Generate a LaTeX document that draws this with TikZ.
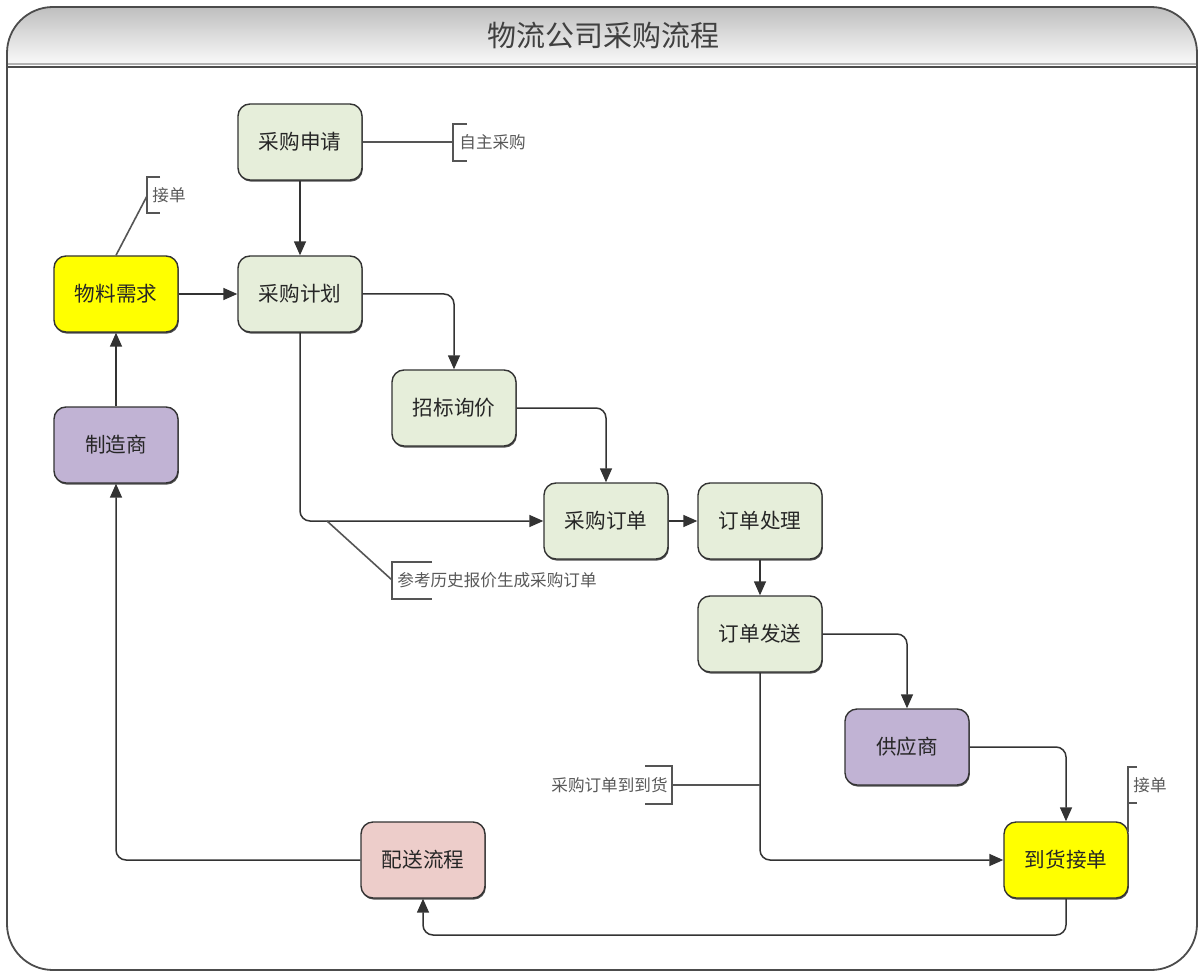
\documentclass[tikz,border=0pt]{standalone}
\usepackage{fontspec}
\newfontfamily\cjk{Noto Sans CJK SC}
\usetikzlibrary{arrows.meta,shadows}
\definecolor{gfill}{HTML}{E6EEDA}
\definecolor{yfill}{HTML}{FFFF00}
\definecolor{pfill}{HTML}{C1B3D4}
\definecolor{rfill}{HTML}{EDCDCA}
\definecolor{edgec}{HTML}{333333}
\definecolor{annoc}{HTML}{555555}
\begin{document}
\begin{tikzpicture}[x=0.5pt,y=-0.5pt,
  box/.style={draw=edgec, line width=0.7pt, rounded corners=6pt,
    minimum width=62pt, minimum height=38pt, inner sep=0pt,
    font=\cjk\fontsize{10.3}{12}\selectfont, text=black!85,
    drop shadow={shadow xshift=0.4pt,shadow yshift=-0.8pt,fill=black!75,opacity=0.9}},
  gbox/.style={box, fill=gfill},
  ybox/.style={box, fill=yfill},
  pbox/.style={box, fill=pfill},
  rbox/.style={box, fill=rfill},
  link/.style={draw=edgec, line width=0.75pt, rounded corners=5pt,
    -{Triangle[length=7pt,width=6pt]}},
  note/.style={draw=annoc, line width=0.8pt},
  notetext/.style={font=\cjk\fontsize{8.3}{10}\selectfont, text=black!65, inner sep=0pt}
]
\useasboundingbox (0,0) rectangle (1202,972);
\fill[white] (0,0) rectangle (1202,972);
% title band
\begin{scope}
  \clip[rounded corners=23pt] (600,7) -- (7,7) -- (7,300) -- (1197,300) -- (1197,7) -- cycle;
  \shade[top color=gray!50, bottom color=gray!4] (7,7) rectangle (1197,65);
\end{scope}
\draw[gray!60, line width=1.2pt] (7,64) -- (1197,64);
\draw[black!70, line width=0.7pt] (7,67) -- (1197,67);
% outer frame
\draw[black!70, line width=0.9pt] (600,7) [rounded corners=23pt] -- (7,7) -- (7,500)
  [rounded corners=23pt] -- (7,970) -- (1197,970) -- (1197,500)
  [rounded corners=23pt] -- (1197,7) -- cycle;
\node[font=\cjk\fontsize{14.5}{16}\selectfont, text=black!75] (title) at (603,36) {物流公司采购流程};

% nodes
\node[gbox] (sq) at (300,142) {采购申请};
\node[gbox] (jh) at (300,294) {采购计划};
\node[ybox] (wl) at (116,294) {物料需求};
\node[pbox] (zz) at (116,445) {制造商};
\node[gbox] (zb) at (454,408) {招标询价};
\node[gbox] (dd) at (606,521) {采购订单};
\node[gbox] (cl) at (760,521) {订单处理};
\node[gbox] (fs) at (760,634) {订单发送};
\node[pbox] (gy) at (907,747) {供应商};
\node[ybox] (dh) at (1066,860) {到货接单};
\node[rbox] (ps) at (423,860) {配送流程};

% connectors
\draw[link] (sq) -- (jh);
\draw[link] (wl) -- (jh);
\draw[link] (zz) -- (wl);
\draw[link] (jh.east) -| (zb.north);
\draw[link] (zb.east) -| (dd.north);
\draw[link] (jh.south) |- (dd.west);
\draw[link] (dd) -- (cl);
\draw[link] (cl) -- (fs);
\draw[link] (fs.east) -| (gy.north);
\draw[link] (gy.east) -| (dh.north);
\draw[link] (fs.south) |- (dh.west);
\coordinate (bt) at (1066,935);
\draw[link] (dh.south) -- (bt) -| (ps.south);
\draw[link] (ps.west) -| (zz.south);

% annotations
\coordinate (a1) at (453,142);
\draw[note] (sq.east) -- (a1);
\draw[note] (467,124) -- (453,124) -- (453,161) -- (467,161);
\node[notetext, anchor=west] (t1) at (459,142) {自主采购};

\coordinate (a2) at (147,196);
\draw[note] (wl.north) -- (a2);
\draw[note] (160,177) -- (147,177) -- (147,213) -- (160,213);
\node[notetext, anchor=west] (t2) at (152,195) {接单};

\coordinate (a3s) at (327,521);
\coordinate (a3) at (392,580);
\draw[note] (a3s) -- (a3);
\draw[note] (432,562) -- (392,562) -- (392,599) -- (432,599);
\node[notetext, anchor=west] (t3) at (397,580) {参考历史报价生成采购订单};

\coordinate (a4s) at (760,785);
\coordinate (a4) at (672,785);
\draw[note] (a4s) -- (a4);
\draw[note] (645,766) -- (672,766) -- (672,804) -- (645,804);
\node[notetext, anchor=east] (t4) at (668,785) {采购订单到到货};

\coordinate (a5s) at (1128,832);
\coordinate (a5) at (1128,803);
\draw[note] (a5s) -- (a5);
\draw[note] (1137,767) -- (1128,767) -- (1128,803) -- (1137,803);
\node[notetext, anchor=west] (t5) at (1133,785) {接单};
\end{tikzpicture}
\end{document}
